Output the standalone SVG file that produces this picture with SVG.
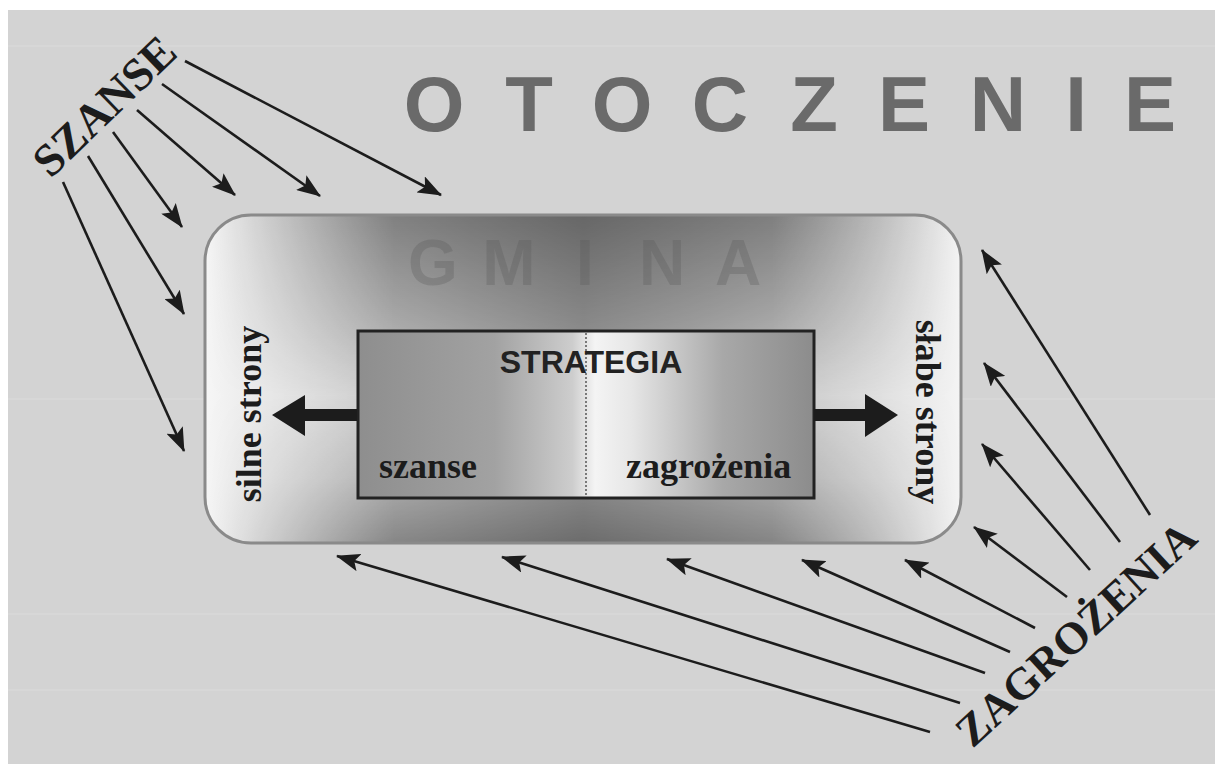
<svg xmlns="http://www.w3.org/2000/svg" width="1215" height="764" viewBox="0 0 1215 764">
<style>
.conn{stroke:#1c1c1c;stroke-width:2.6;fill:none;marker-end:url(#ah)}
.serif{font-family:"Liberation Serif","Times New Roman",serif;font-weight:bold;fill:#1c1c1c}
.sans{font-family:"Liberation Sans",Arial,sans-serif;font-weight:bold}
.streak{stroke:#e2e2e2;stroke-width:1.2;opacity:0.5}
</style>
<defs>
<marker id="ah" markerUnits="userSpaceOnUse" markerWidth="24" markerHeight="18" refX="23" refY="9" orient="auto">
<path d="M0,0 L24,9 L0,18 L5,9 z" fill="#1c1c1c"/>
</marker>
<linearGradient id="boxH" x1="0" y1="0" x2="1" y2="0">
<stop offset="0" stop-color="#f6f6f6"/>
<stop offset="0.12" stop-color="#e4e4e4"/>
<stop offset="0.5" stop-color="#a6a6a6"/>
<stop offset="0.88" stop-color="#e0e0e0"/>
<stop offset="1" stop-color="#f4f4f4"/>
</linearGradient>
<linearGradient id="boxV" x1="0" y1="0" x2="0" y2="1">
<stop offset="0" stop-color="#000" stop-opacity="0.38"/>
<stop offset="0.3" stop-color="#000" stop-opacity="0.2"/>
<stop offset="0.55" stop-color="#000" stop-opacity="0.02"/>
<stop offset="0.8" stop-color="#000" stop-opacity="0.15"/>
<stop offset="1" stop-color="#000" stop-opacity="0.35"/>
</linearGradient>
<linearGradient id="maskH" x1="0" y1="0" x2="1" y2="0">
<stop offset="0" stop-color="#000"/>
<stop offset="0.25" stop-color="#fff"/>
<stop offset="0.75" stop-color="#fff"/>
<stop offset="1" stop-color="#000"/>
</linearGradient>
<mask id="centerMask" maskUnits="userSpaceOnUse" x="205" y="215" width="756" height="329">
<rect x="205" y="215" width="756" height="329" fill="url(#maskH)"/>
</mask>
<linearGradient id="innerH" x1="0" y1="0" x2="1" y2="0">
<stop offset="0" stop-color="#8e8e8e"/>
<stop offset="0.3" stop-color="#a2a2a2"/>
<stop offset="0.47" stop-color="#cdcdcd"/>
<stop offset="0.52" stop-color="#f4f4f4"/>
<stop offset="0.6" stop-color="#e6e6e6"/>
<stop offset="0.8" stop-color="#a8a8a8"/>
<stop offset="1" stop-color="#8c8c8c"/>
</linearGradient>
</defs>

<g id="background">
<rect x="0" y="0" width="1215" height="764" fill="#ffffff"/>
<rect x="8" y="10" width="1207" height="754" fill="#d3d3d3"/>
<line class="streak" x1="8" y1="46" x2="1215" y2="46"/>
<line class="streak" x1="8" y1="399" x2="1215" y2="399"/>
<line class="streak" x1="8" y1="614" x2="1215" y2="614"/>
<line class="streak" x1="8" y1="690" x2="1215" y2="690"/>
</g>

<g id="otoczenie">
<text class="sans" font-size="78" fill="#6a6a6a" text-anchor="middle" y="131" x="434 529 622 720 814 904 998 1076 1150">OTOCZENIE</text>
</g>

<g id="gmina">
<rect x="205" y="215" width="756" height="328" rx="46" ry="46" fill="url(#boxH)"/>
<rect x="205" y="215" width="756" height="328" rx="46" ry="46" fill="url(#boxV)" mask="url(#centerMask)"/>
<text class="sans" font-size="64" fill="#5a5a5a" fill-opacity="0.3" text-anchor="middle" y="285" x="433 509 585 662 738">GMINA</text>
<rect x="205" y="215" width="756" height="328" rx="46" ry="46" fill="none" stroke="#8a8a8a" stroke-width="3"/>
<text class="serif" font-size="36" text-anchor="middle" transform="translate(261,414) rotate(-90)">silne strony</text>
<text class="serif" font-size="36" text-anchor="middle" transform="translate(916,412) rotate(90)">słabe strony</text>
</g>

<g id="strategia">
<rect x="358" y="331" width="456" height="167" fill="url(#innerH)" stroke="#222" stroke-width="3"/>
<line x1="586" y1="333" x2="586" y2="496" stroke="#333" stroke-width="1.2" stroke-dasharray="2,2"/>
<text class="sans" font-size="32" fill="#222" text-anchor="middle" x="591" y="373">STRATEGIA</text>
<text class="serif" font-size="36" x="379" y="478">szanse</text>
<text class="serif" font-size="36" x="626" y="478">zagrożenia</text>
<path d="M357,409 L305,409 L305,395 L272,415 L305,436 L305,421 L357,421 z" fill="#1c1c1c"/>
<path d="M814,409 L865,409 L865,394 L898,415 L865,437 L865,421 L814,421 z" fill="#1c1c1c"/>
</g>

<g id="szanse-label">
<text class="serif" font-size="46" text-anchor="middle" transform="translate(115,117) rotate(-44)">SZANSE</text>
</g>

<g id="zagrozenia-label">
<text class="serif" font-size="45" text-anchor="middle" transform="translate(1086,645) rotate(-42.5)">ZAGROŻENIA</text>
</g>

<g id="connectors">
<line class="conn" x1="185" y1="61" x2="441" y2="195"/>
<line class="conn" x1="162" y1="84" x2="320" y2="196"/>
<line class="conn" x1="137" y1="110" x2="235" y2="195"/>
<line class="conn" x1="113" y1="132" x2="182" y2="227"/>
<line class="conn" x1="88" y1="156" x2="184" y2="314"/>
<line class="conn" x1="63" y1="182" x2="184" y2="451"/>
<line class="conn" x1="1150" y1="515" x2="982" y2="250"/>
<line class="conn" x1="1120" y1="542" x2="984" y2="363"/>
<line class="conn" x1="1090" y1="570" x2="982" y2="444"/>
<line class="conn" x1="1067" y1="597" x2="974" y2="527"/>
<line class="conn" x1="1035" y1="628" x2="905" y2="560"/>
<line class="conn" x1="1010" y1="652" x2="802" y2="560"/>
<line class="conn" x1="985" y1="673" x2="667" y2="559"/>
<line class="conn" x1="960" y1="703" x2="502" y2="557"/>
<line class="conn" x1="930" y1="732" x2="337" y2="556"/>
</g>
</svg>
